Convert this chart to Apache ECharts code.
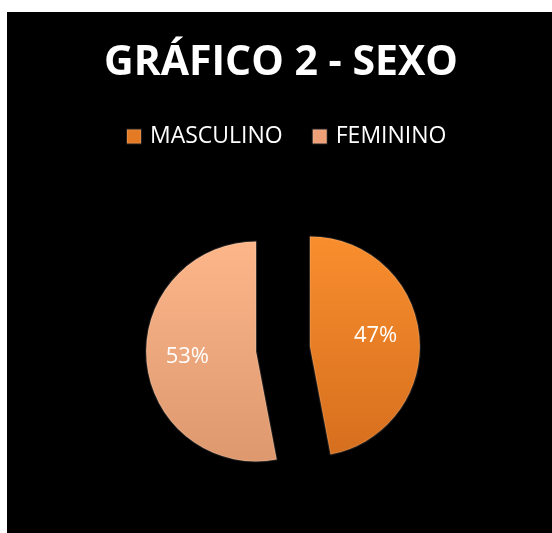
<!DOCTYPE html>
<html><head><meta charset="utf-8">
<script src="https://cdn.jsdelivr.net/npm/echarts@6/dist/echarts.min.js"></script>
<style>html,body{margin:0;padding:0;background:#fff}#c{width:552px;height:533px}</style>
</head><body><div id="c"></div>
<script>
const titleText = 'GRÁFICO 2 - SEXO';
const categories = ['MASCULINO', 'FEMININO'];
const values = [47, 53];

const grad = (top, bottom) => ({type:'linear',x:0,y:0,x2:0,y2:1,colorStops:[{offset:0,color:top},{offset:1,color:bottom}]});
const sliceColors = [grad('#F98E2E','#D66F1E'), grad('#FDB68A','#DD986E')];
const legendColors = ['#E57A25','#EFA077'];
const labelPaddings = [[0,0,0,16],[0,22,0,0]];
const labelFormats = ['{v|{d}%}\n{s|}', '{v|{d}%}'];

const chart = echarts.init(document.getElementById('c'));
chart.setOption({
  backgroundColor:'#ffffff',
  animation:false,
  graphic:[{type:'rect',z:-10,shape:{x:7,y:12,width:545,height:521},style:{fill:'#000'}}],
  title:{text:titleText,left:99,top:38,textStyle:{color:'#fff',fontFamily:'Open Sans',fontWeight:'bold',fontSize:41}},
  legend:{top:120,left:121,itemWidth:14,itemHeight:14,itemGap:29,icon:'rect',
    textStyle:{color:'#fff',fontFamily:'Open Sans',fontSize:23,padding:[0,0,0,4]},
    data:categories.map((n,i)=>({name:n,itemStyle:{color:legendColors[i]}}))},
  series:[{
    type:'pie',center:[283,349],radius:110,startAngle:90,clockwise:true,
    selectedMode:'multiple',selectedOffset:27,
    label:{show:true,position:'inside',color:'#fff',fontFamily:'Open Sans',fontSize:22,
      rich:{v:{color:'#fff',fontFamily:'Open Sans',fontSize:22,lineHeight:28},s:{fontSize:1,lineHeight:10}}},
    labelLine:{show:false},
    emphasis:{disabled:true},
    data:categories.map((n,i)=>({name:n,value:values[i],selected:true,
      label:{padding:labelPaddings[i],formatter:labelFormats[i]},
      itemStyle:{color:sliceColors[i],borderColor:'rgba(255,255,255,0.12)',borderWidth:2}}))
  }]
});
</script></body></html>
